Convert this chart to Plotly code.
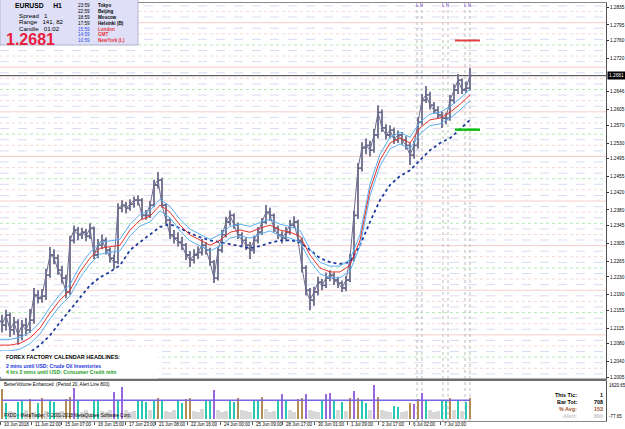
import plotly.graph_objects as go

# ---------------- data ----------------
SYMBOL = "EURUSD"
TIMEFRAME = "H1"
LAST_PRICE = 1.2681

# 4-hour aggregated price bars (bar index = hours on the chart)
BAR_X = [4 * i + 2 for i in range(118)]
OPEN = [1.2130, 1.2122, 1.2144, 1.2111, 1.2128, 1.2099, 1.2122, 1.2111, 1.2133, 1.2189,
        1.2182, 1.2187, 1.2234, 1.2279, 1.2272, 1.2245, 1.2227, 1.2196, 1.2312, 1.2335,
        1.2324, 1.2330, 1.2321, 1.2339, 1.2279, 1.2301, 1.2312, 1.2290, 1.2272, 1.2263,
        1.2384, 1.2391, 1.2384, 1.2393, 1.2402, 1.2402, 1.2368, 1.2368, 1.2391, 1.2436,
        1.2447, 1.2391, 1.2357, 1.2324, 1.2317, 1.2308, 1.2301, 1.2279, 1.2268, 1.2279,
        1.2285, 1.2301, 1.2290, 1.2263, 1.2227, 1.2290, 1.2324, 1.2353, 1.2368, 1.2346,
        1.2324, 1.2312, 1.2301, 1.2290, 1.2312, 1.2330, 1.2353, 1.2375, 1.2368, 1.2339,
        1.2324, 1.2317, 1.2330, 1.2346, 1.2353, 1.2312, 1.2250, 1.2200, 1.2178, 1.2196,
        1.2218, 1.2211, 1.2227, 1.2234, 1.2223, 1.2216, 1.2205, 1.2223, 1.2272, 1.2368,
        1.2474, 1.2519, 1.2525, 1.2514, 1.2548, 1.2599, 1.2564, 1.2548, 1.2559, 1.2537,
        1.2548, 1.2537, 1.2525, 1.2503, 1.2525, 1.2577, 1.2626, 1.2638, 1.2615, 1.2604,
        1.2593, 1.2586, 1.2586, 1.2626, 1.2649, 1.2671, 1.2649, 1.2653]
CLOSE = [1.2122, 1.2144, 1.2111, 1.2128, 1.2099, 1.2122, 1.2111, 1.2133, 1.2189, 1.2182,
         1.2187, 1.2234, 1.2279, 1.2272, 1.2245, 1.2227, 1.2196, 1.2312, 1.2335, 1.2324,
         1.2330, 1.2321, 1.2339, 1.2279, 1.2301, 1.2312, 1.2290, 1.2272, 1.2263, 1.2384,
         1.2391, 1.2384, 1.2393, 1.2402, 1.2402, 1.2368, 1.2368, 1.2391, 1.2436, 1.2447,
         1.2391, 1.2357, 1.2324, 1.2317, 1.2308, 1.2301, 1.2279, 1.2268, 1.2279, 1.2285,
         1.2301, 1.2290, 1.2263, 1.2227, 1.2290, 1.2324, 1.2353, 1.2368, 1.2346, 1.2324,
         1.2312, 1.2301, 1.2290, 1.2312, 1.2330, 1.2353, 1.2375, 1.2368, 1.2339, 1.2324,
         1.2317, 1.2330, 1.2346, 1.2353, 1.2312, 1.2250, 1.2200, 1.2178, 1.2196, 1.2218,
         1.2211, 1.2227, 1.2234, 1.2223, 1.2216, 1.2205, 1.2223, 1.2272, 1.2368, 1.2474,
         1.2519, 1.2525, 1.2514, 1.2548, 1.2599, 1.2564, 1.2548, 1.2559, 1.2537, 1.2548,
         1.2537, 1.2525, 1.2503, 1.2525, 1.2577, 1.2626, 1.2638, 1.2615, 1.2604, 1.2593,
         1.2586, 1.2586, 1.2626, 1.2649, 1.2671, 1.2649, 1.2653, 1.2681]
HIGH = [1.2145, 1.2156, 1.2150, 1.2140, 1.2135, 1.2133, 1.2138, 1.2158, 1.2205, 1.2200,
        1.2203, 1.2248, 1.2297, 1.2292, 1.2280, 1.2255, 1.2235, 1.2322, 1.2345, 1.2342,
        1.2340, 1.2338, 1.2350, 1.2343, 1.2315, 1.2325, 1.2318, 1.2296, 1.2280, 1.2395,
        1.2402, 1.2398, 1.2404, 1.2410, 1.2413, 1.2406, 1.2380, 1.2400, 1.2448, 1.2465,
        1.2452, 1.2395, 1.2362, 1.2335, 1.2330, 1.2320, 1.2306, 1.2288, 1.2292, 1.2298,
        1.2315, 1.2308, 1.2295, 1.2268, 1.2298, 1.2335, 1.2365, 1.2379, 1.2372, 1.2352,
        1.2330, 1.2318, 1.2308, 1.2322, 1.2342, 1.2362, 1.2391, 1.2385, 1.2372, 1.2345,
        1.2332, 1.2342, 1.2358, 1.2366, 1.2358, 1.2318, 1.2256, 1.2205, 1.2208, 1.2230,
        1.2226, 1.2240, 1.2245, 1.2240, 1.2230, 1.2222, 1.2232, 1.2282, 1.2378, 1.2485,
        1.2532, 1.2540, 1.2535, 1.2562, 1.2615, 1.2605, 1.2572, 1.2570, 1.2565, 1.2558,
        1.2555, 1.2545, 1.2530, 1.2535, 1.2588, 1.2640, 1.2658, 1.2645, 1.2622, 1.2612,
        1.2600, 1.2598, 1.2638, 1.2662, 1.2685, 1.2675, 1.2668, 1.2698]
LOW = [1.2105, 1.2110, 1.2095, 1.2100, 1.2078, 1.2088, 1.2098, 1.2104, 1.2125, 1.2170,
       1.2172, 1.2178, 1.2228, 1.2258, 1.2235, 1.2215, 1.2182, 1.2190, 1.2305, 1.2312,
       1.2315, 1.2310, 1.2315, 1.2270, 1.2272, 1.2292, 1.2280, 1.2262, 1.2248, 1.2258,
       1.2375, 1.2372, 1.2378, 1.2385, 1.2390, 1.2360, 1.2358, 1.2362, 1.2386, 1.2428,
       1.2385, 1.2348, 1.2315, 1.2305, 1.2298, 1.2290, 1.2268, 1.2252, 1.2260, 1.2270,
       1.2278, 1.2280, 1.2255, 1.2216, 1.2222, 1.2284, 1.2318, 1.2345, 1.2338, 1.2315,
       1.2300, 1.2290, 1.2270, 1.2282, 1.2305, 1.2324, 1.2348, 1.2355, 1.2330, 1.2315,
       1.2305, 1.2310, 1.2325, 1.2340, 1.2305, 1.2240, 1.2188, 1.2155, 1.2165, 1.2188,
       1.2200, 1.2205, 1.2220, 1.2212, 1.2205, 1.2196, 1.2198, 1.2218, 1.2265, 1.2360,
       1.2466, 1.2505, 1.2500, 1.2508, 1.2540, 1.2555, 1.2538, 1.2540, 1.2528, 1.2530,
       1.2526, 1.2515, 1.2481, 1.2495, 1.2518, 1.2570, 1.2620, 1.2605, 1.2595, 1.2585,
       1.2564, 1.2572, 1.2580, 1.2618, 1.2640, 1.2640, 1.2642, 1.2648]

# moving averages / envelopes sampled every 10 bars
MA_X = list(range(0, 480, 10))
MA_FAST = [1.2077, 1.2077, 1.2081, 1.2093, 1.2115, 1.2149, 1.2178, 1.2200, 1.2241, 1.2272,
           1.2294, 1.2297, 1.2301, 1.2335, 1.2357, 1.2366, 1.2391, 1.2375, 1.2346, 1.2324,
           1.2312, 1.2301, 1.2312, 1.2330, 1.2335, 1.2330, 1.2339, 1.2346, 1.2335, 1.2330,
           1.2321, 1.2279, 1.2250, 1.2241, 1.2241, 1.2256, 1.2312, 1.2425, 1.2492, 1.2530,
           1.2541, 1.2530, 1.2564, 1.2582, 1.2586, 1.2599, 1.2617, 1.2638]
ENV_UPPER = [1.2090, 1.2090, 1.2094, 1.2106, 1.2128, 1.2162, 1.2191, 1.2213, 1.2254, 1.2285,
             1.2307, 1.2310, 1.2314, 1.2348, 1.2370, 1.2379, 1.2404, 1.2388, 1.2359, 1.2337,
             1.2325, 1.2314, 1.2325, 1.2343, 1.2348, 1.2343, 1.2352, 1.2359, 1.2348, 1.2343,
             1.2334, 1.2292, 1.2263, 1.2254, 1.2254, 1.2269, 1.2325, 1.2438, 1.2505, 1.2543,
             1.2554, 1.2543, 1.2577, 1.2595, 1.2599, 1.2612, 1.2630, 1.2651]
ENV_LOWER = [1.2064, 1.2064, 1.2068, 1.2080, 1.2102, 1.2136, 1.2165, 1.2187, 1.2228, 1.2259,
             1.2281, 1.2284, 1.2288, 1.2322, 1.2344, 1.2353, 1.2378, 1.2362, 1.2333, 1.2311,
             1.2299, 1.2288, 1.2299, 1.2317, 1.2322, 1.2317, 1.2326, 1.2333, 1.2322, 1.2317,
             1.2308, 1.2266, 1.2237, 1.2228, 1.2228, 1.2243, 1.2299, 1.2412, 1.2479, 1.2517,
             1.2528, 1.2517, 1.2551, 1.2569, 1.2573, 1.2586, 1.2604, 1.2625]
MA_SLOW = [1.2003, 1.2016, 1.2039, 1.2061, 1.2077, 1.2099, 1.2128, 1.2155, 1.2182, 1.2211,
           1.2229, 1.2241, 1.2256, 1.2290, 1.2308, 1.2324, 1.2342, 1.2348, 1.2339, 1.2328,
           1.2319, 1.2312, 1.2308, 1.2303, 1.2299, 1.2294, 1.2299, 1.2306, 1.2312, 1.2312,
           1.2308, 1.2290, 1.2272, 1.2263, 1.2259, 1.2263, 1.2301, 1.2353, 1.2402, 1.2436,
           1.2456, 1.2469, 1.2492, 1.2514, 1.2530, 1.2541, 1.2561, 1.2582]

# volume (aggregated per 4 bars) and its colour class
VOLUME = [1300, 700, 350, 300, 750, 820, 400, 850, 300, 700,
          880, 350, 780, 720, 300, 350, 850, 950, 1320, 800,
          300, 400, 250, 760, 820, 350, 300, 400, 1150, 760,
          1350, 400, 300, 350, 780, 820, 740, 400, 800, 900,
          760, 350, 300, 400, 780, 700, 850, 900, 350, 300,
          450, 760, 820, 1250, 400, 300, 350, 780, 720, 900,
          400, 350, 300, 760, 820, 950, 450, 300, 350, 800,
          1050, 760, 400, 300, 850, 900, 1050, 400, 350, 300,
          760, 1050, 1100, 820, 400, 720, 350, 880, 1180, 900,
          760, 700, 400, 1450, 950, 400, 350, 300, 550, 500,
          300, 350, 700, 650, 850, 1100, 760, 400, 300, 350,
          760, 800, 900, 400, 820, 350, 720, 880]
VOLUME_CLASS = ("btggttgbgt" "bgttggbbpt" "gggttgggpt" "pgggtttgtb" "tgggttbbgg" "gttpgggttb"
                "gggttbgggt" "ptggbbpggg" "tpptgtgbpb" "ttgpbgggtt" "ggbpbptggg" "ttbgtgtb")
ALERT_LEVEL = 800
VOL_LABELS = [1620.65, -77.65]

Y_TICKS = [1.2835, 1.2795, 1.2760, 1.2720, 1.2646, 1.2605, 1.2570, 1.2530, 1.2495, 1.2455,
           1.2420, 1.2380, 1.2345, 1.2305, 1.2265, 1.2230, 1.2190, 1.2155, 1.2115, 1.2080,
           1.2040, 1.2005]
TIME_TICK_X = [0, 31, 61, 94, 125, 155, 187, 220, 252, 282, 314, 347, 378, 409, 440]
TIME_TICK_TEXT = ["10 Jun 2018", "11 Jun 22:00", "15 Jun 07:00", "16 Jun 15:00", "17 Jun 23:00",
                  "21 Jun 08:00", "22 Jun 16:00", "24 Jun 00:00", "25 Jun 09:00", "28 Jun 17:00",
                  "30 Jun 01:00", "1 Jul 09:00", "2 Jul 17:00", "6 Jul 02:00", "7 Jul 10:00"]
EVENT_BARS = [417, 422, 443, 448, 465, 470]
TARGET_HIGH = 1.2760
TARGET_LOW = 1.2560

SESSIONS = [("23:59", "Tokyo"), ("22:59", "Beijing"), ("18:59", "Moscow"), ("17:59", "Helsinki (B)"),
            ("15:59", "London"), ("14:59", "GMT"), ("10:59", "NewYork (L)")]
SPREAD, RANGE_TXT, CANDLE = "1", "141, 82", "01:02"
HEADLINES = ["FOREX FACTORY CALENDAR HEADLINES:",
             "2 mins until USD: Crude Oil Inventories",
             "4 hrs 2 mins until USD: Consumer Credit m/m"]
STATS = [("This Tic:", "1"), ("Bar Tot:", "708"), ("% Avg:", "153"), ("Alert:", "800")]

# ---------------- layout helpers ----------------
W, H = 625, 429
ML, MR, MT, MB = 0, 19, 3, 8
PW, PH = W - ML - MR, H - MT - MB
FONT = "Liberation Sans"
NB = "\u00a0"


def px_x(x):
    return (x - ML) / PW


def px_y(y):
    return (H - MB - y) / PH


MAIN_BOTTOM = px_y(379)
IND_TOP = px_y(381)

fig = go.Figure()

PRICE_C = "#6c6c8c"
fig.add_trace(go.Ohlc(x=BAR_X, open=OPEN, high=HIGH, low=LOW, close=CLOSE,
                      increasing=dict(line=dict(color=PRICE_C, width=1.8)),
                      decreasing=dict(line=dict(color=PRICE_C, width=1.8)),
                      tickwidth=0.5, hoverinfo="skip", xaxis="x", yaxis="y"))
fig.add_trace(go.Scatter(x=BAR_X, y=CLOSE, mode="lines", line=dict(color=PRICE_C, width=1),
                         hoverinfo="skip", xaxis="x", yaxis="y"))
fig.add_trace(go.Scatter(x=MA_X, y=MA_SLOW, mode="lines", line=dict(color="#1f3c9c", width=1.8, dash="dot"),
                         hoverinfo="skip", xaxis="x", yaxis="y"))
fig.add_trace(go.Scatter(x=MA_X, y=ENV_UPPER, mode="lines", line=dict(color="#5aaef0", width=1),
                         hoverinfo="skip", xaxis="x", yaxis="y"))
fig.add_trace(go.Scatter(x=MA_X, y=ENV_LOWER, mode="lines", line=dict(color="#5aaef0", width=1),
                         hoverinfo="skip", xaxis="x", yaxis="y"))
fig.add_trace(go.Scatter(x=MA_X, y=MA_FAST, mode="lines", line=dict(color="#e5332d", width=1),
                         hoverinfo="skip", xaxis="x", yaxis="y"))

VCOL = {"g": "#d8d8d8", "t": "#26c8b2", "b": "#b38c56", "p": "#9a68dc"}
fig.add_trace(go.Bar(x=BAR_X, y=VOLUME, marker=dict(color=[VCOL[c] for c in VOLUME_CLASS], line=dict(width=0)),
                     width=[4 if c == "g" else 2.4 for c in VOLUME_CLASS],
                     hoverinfo="skip", xaxis="x2", yaxis="y2"))
fig.add_trace(go.Scatter(x=BAR_X, y=[ALERT_LEVEL] * len(BAR_X), mode="lines",
                         line=dict(color="#7466e6", width=1.5), hoverinfo="skip", xaxis="x2", yaxis="y2"))

shapes = []
# price level grid
for k in range(69):
    lvl = round(1.2000 + k * 0.00125, 5)
    m = k % 8
    if m == 0:
        col, dash = "#f7cccc", "solid"
    elif m == 4:
        col, dash = "#b4eab4", "dot"
    elif m in (2, 6):
        col, dash = "#f6d6d6", "dot"
    else:
        col, dash = "#dadaf6", "dash"
    shapes.append(dict(type="line", xref="paper", yref="y", x0=0, x1=1, y0=lvl, y1=lvl,
                       line=dict(color=col, width=1, dash=dash), layer="below"))
# event markers
for ex in EVENT_BARS:
    shapes.append(dict(type="line", xref="x", yref="paper", x0=ex, x1=ex, y0=0, y1=1,
                       line=dict(color="#bcbcbc", width=1, dash="dot"), layer="below"))
# current price line
shapes.append(dict(type="line", xref="paper", yref="y", x0=0, x1=1, y0=LAST_PRICE, y1=LAST_PRICE,
                   line=dict(color="#3a3a3a", width=1), layer="below"))
# target lines
shapes.append(dict(type="line", xref="x", yref="y", x0=455, x1=480, y0=TARGET_HIGH, y1=TARGET_HIGH,
                   line=dict(color="#e04040", width=2)))
shapes.append(dict(type="line", xref="x", yref="y", x0=455, x1=480, y0=TARGET_LOW, y1=TARGET_LOW,
                   line=dict(color="#10c010", width=2.5)))
# panel separator
shapes.append(dict(type="rect", xref="paper", yref="paper", x0=0, x1=1, y0=px_y(381), y1=px_y(378.6),
                   fillcolor="#6e6e6e", line=dict(width=0)))
# info box
shapes.append(dict(type="rect", xref="paper", yref="paper", x0=px_x(0), x1=px_x(138), y0=px_y(45), y1=px_y(-1),
                   fillcolor="#dfe0f7", line=dict(color="#b4b4d0", width=1), layer="above"))
# headlines box
shapes.append(dict(type="rect", xref="paper", yref="paper", x0=px_x(0.5), x1=px_x(158), y0=px_y(378.5), y1=px_y(351),
                   fillcolor="white", line=dict(width=0), layer="above"))

ann = []


def txt(x, y, s, size=5, color="black", anchor="left", bold=False):
    ann.append(dict(x=px_x(x), y=px_y(y), xref="paper", yref="paper",
                    text=("<b>%s</b>" % s) if bold else s, showarrow=False,
                    xanchor=anchor, yanchor="middle", borderpad=0,
                    font=dict(size=size, color=color, family=FONT)))


# info panel
txt(14, 6, SYMBOL + NB * 5 + TIMEFRAME, 6.8, bold=True)
txt(18, 15, "Spread" + NB * 3 + SPREAD, 6.2)
txt(18, 22, "Range" + NB * 3 + RANGE_TXT, 6.2)
txt(18, 29, "Candle" + NB * 3 + CANDLE, 6.2)
txt(5, 39, "%.4f" % LAST_PRICE, 16, color="#e8203c", bold=True)
for i, (t, name) in enumerate(SESSIONS):
    yy = 5.7 + i * 5.85
    late = i >= 4
    txt(77, yy, t, 4.6, color="#2a4fe8" if late else "black")
    txt(97, yy, name, 4.6, color="#e8303a" if late else "black", bold=True)

# headlines
txt(5, 356.5, HEADLINES[0], 5.5, bold=True)
txt(5, 365.5, HEADLINES[1], 5.1, color="#2234e0", bold=True)
txt(5, 372, HEADLINES[2], 5.1, color="#1e9e1e", bold=True)

# session labels
for a, b in zip(EVENT_BARS[0::2], EVENT_BARS[1::2]):
    ann.append(dict(x=(a + b) / 2, y=px_y(5), xref="x", yref="paper", text="L N", showarrow=False,
                    xanchor="center", yanchor="middle", font=dict(size=4.6, color="#8b52d6", family=FONT)))

# indicator texts
txt(3, 384.5, "BetterVolume Enhanced" + NB * 2 + "(Period 20, Alert Line 800)", 4.6)
txt(3, 414.5, "FXDD - MetaTrader, \u00a9 2001-2018 MetaQuotes Software Corp.", 4.6)
stat_colors = ["black", "black", "#a0522d", "#c4c4c4"]
for i, (lab, val) in enumerate(STATS):
    yy = 394.5 + i * 7
    txt(578, yy, lab, 5.4, color=stat_colors[i], anchor="right", bold=True)
    txt(604, yy, val, 5.4, color=stat_colors[i], anchor="right", bold=True)

# indicator scale labels
for v in VOL_LABELS:
    ann.append(dict(x=1, y=v, xref="paper", yref="y2", text="%.2f" % v, showarrow=False,
                    xanchor="left", yanchor="top" if v > 0 else "bottom", xshift=1,
                    font=dict(size=4.5, color="black", family=FONT)))

# time axis labels
for tx, tt in zip(TIME_TICK_X, TIME_TICK_TEXT):
    ann.append(dict(x=tx + 2, y=px_y(424.5), xref="x2", yref="paper", text=tt, showarrow=False,
                    xanchor="left", yanchor="middle", font=dict(size=4.5, color="black", family=FONT)))

# current price tag
ann.append(dict(x=1, y=LAST_PRICE, xref="paper", yref="y", text="%.4f" % LAST_PRICE, showarrow=False,
                xanchor="left", yanchor="middle", bgcolor="black", borderpad=1, xshift=1,
                font=dict(size=4.8, color="white", family=FONT)))

fig.update_layout(
    width=W, height=H, margin=dict(l=ML, r=MR, t=MT, b=MB),
    paper_bgcolor="white", plot_bgcolor="white", showlegend=False,
    shapes=shapes, annotations=ann, bargap=0,
    xaxis=dict(domain=[0, 1], range=[0, PW], anchor="y", showticklabels=False, showgrid=False,
               zeroline=False, rangeslider=dict(visible=False), showline=True, mirror=True,
               linecolor="#8a8a8a", linewidth=1, fixedrange=True),
    yaxis=dict(domain=[MAIN_BOTTOM, 1], range=[1.2001, 1.2844], side="right", anchor="x",
               tickvals=Y_TICKS, ticktext=["%.4f" % v for v in Y_TICKS], ticks="outside", ticklen=2,
               tickcolor="#333", tickfont=dict(size=4.7, color="black", family=FONT),
               showgrid=False, zeroline=False, showline=True, mirror=True, linecolor="#505050"),
    xaxis2=dict(domain=[0, 1], range=[0, PW], anchor="y2", showticklabels=False, showgrid=False,
                zeroline=False, tickvals=TIME_TICK_X, ticks="outside", ticklen=3, tickcolor="#555",
                showline=True, mirror=True, linecolor="#8a8a8a"),
    yaxis2=dict(domain=[0, IND_TOP], range=[-77.65, 1620.65], side="right", anchor="x2",
                showticklabels=False, ticks="",
                showgrid=False, zeroline=False, showline=True, mirror=True, linecolor="#505050"),
)

fig.write_html("out.html")
